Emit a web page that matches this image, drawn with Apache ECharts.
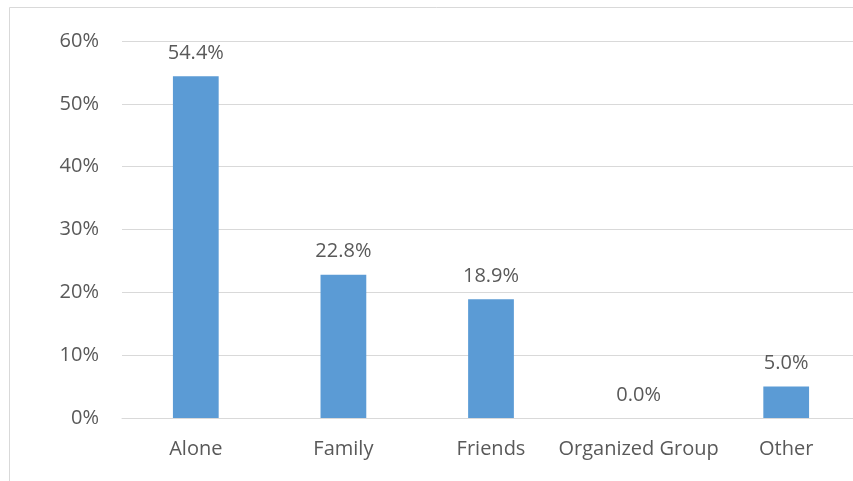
<!DOCTYPE html>
<html><head><meta charset="utf-8">
<script src="https://cdn.jsdelivr.net/npm/echarts@6/dist/echarts.min.js"></script>
<style>html,body{margin:0;padding:0;background:#fff;overflow:hidden;width:853px;height:481px}#c{width:862px;height:481px}</style>
</head><body><div id="c"></div>
<script>
const categories = ["Alone", "Family", "Friends", "Organized Group", "Other"];
const values = [54.4, 22.8, 18.9, 0.0, 5.0];
const yMin = 0, yMax = 60, yStep = 10;

const chart = echarts.init(document.getElementById('c'), null, {renderer: 'canvas'});
const font = "'Open Sans', 'Noto Sans', sans-serif";
chart.setOption({
  animation: false,
  backgroundColor: '#fff',
  graphic: [{
    type: 'rect', left: 7, top: 5, shape: {width: 900, height: 500},
    style: {fill: 'none', stroke: '#d9d9d9', lineWidth: 1}
  }],
  grid: {left: 122, right: 2, top: 41, bottom: 63, containLabel: false},
  xAxis: {
    type: 'category', data: categories,
    axisLine: {show: true, lineStyle: {color: '#d9d9d9', width: 1}},
    axisTick: {show: false},
    axisLabel: {color: '#595959', fontSize: 20, fontFamily: font, margin: 21, interval: 0}
  },
  yAxis: {
    type: 'value', min: yMin, max: yMax, interval: yStep,
    axisLine: {show: false}, axisTick: {show: false},
    splitLine: {lineStyle: {color: '#d9d9d9', width: 1}},
    axisLabel: {color: '#595959', fontSize: 20, fontFamily: font, margin: 23,
      formatter: v => v + '%'}
  },
  series: [{
    type: 'bar', data: values, barWidth: '31%',
    itemStyle: {color: '#5B9BD5'},
    label: {show: true, position: 'top', distance: 13, color: '#595959', fontSize: 20, fontFamily: font,
      formatter: p => p.value.toFixed(1) + '%'}
  }]
});
</script></body></html>
